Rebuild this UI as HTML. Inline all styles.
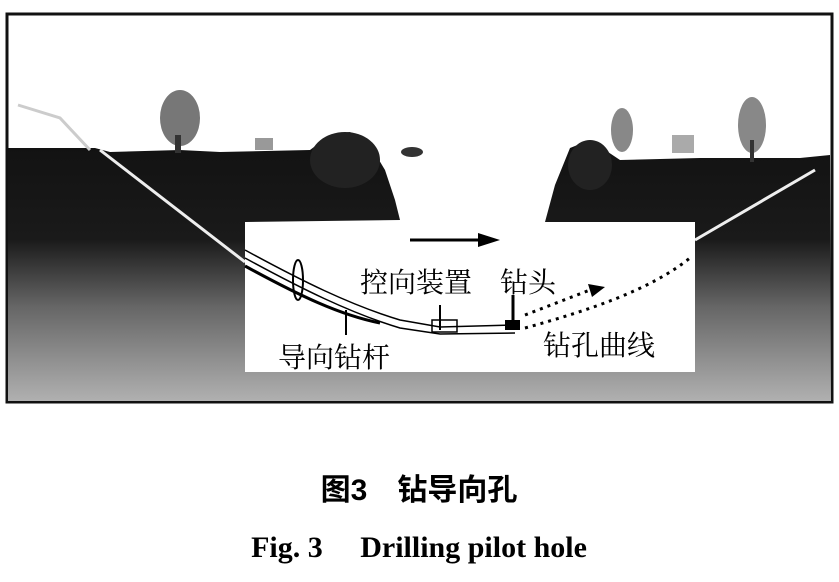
<!DOCTYPE html>
<html><head><meta charset="utf-8"><style>
body{margin:0;width:839px;height:577px;background:#fff;overflow:hidden}
</style></head><body>
<svg width="839" height="577" xmlns="http://www.w3.org/2000/svg">
<defs>
<linearGradient id="g" x1="0" y1="0" x2="0" y2="1">
<stop offset="0" stop-color="#111"/><stop offset="0.4" stop-color="#1a1a1a"/><stop offset="0.65" stop-color="#666"/><stop offset="1" stop-color="#b0b0b0"/>
</linearGradient>
</defs>
<rect x="7" y="14" width="825" height="388" fill="#fff" stroke="#111" stroke-width="3"/>
<path d="M8,148 L95,148 L110,152 L180,150 L220,152 L310,150 L330,135 L350,132 L370,145 L385,170 L395,200 L400,220 L245,222 L245,372 L695,372 L695,222 L545,222 L555,185 L570,148 L590,140 L620,160 L700,158 L800,158 L830,155 L831,401 L8,401 Z" fill="url(#g)"/>
<ellipse cx="345" cy="160" rx="35" ry="28" fill="#222"/>
<ellipse cx="590" cy="165" rx="22" ry="25" fill="#222"/>
<ellipse cx="412" cy="152" rx="11" ry="5" fill="#333"/>
<ellipse cx="180" cy="118" rx="20" ry="28" fill="#777"/><rect x="175" y="135" width="6" height="18" fill="#333"/>
<ellipse cx="622" cy="130" rx="11" ry="22" fill="#888"/>
<ellipse cx="752" cy="125" rx="14" ry="28" fill="#888"/><rect x="750" y="140" width="4" height="22" fill="#333"/>
<rect x="255" y="138" width="18" height="12" fill="#999"/>
<rect x="672" y="135" width="22" height="18" fill="#aaa"/>
<path d="M100,150 L245,262" stroke="#eee" stroke-width="3" fill="none"/>
<path d="M695,240 L815,170" stroke="#eee" stroke-width="3" fill="none"/>
<path d="M18,105 L60,118 L90,150" stroke="#ccc" stroke-width="3" fill="none"/>
<rect x="245" y="222" width="450" height="150" fill="#fff"/>
<line x1="410" y1="240" x2="480" y2="240" stroke="#000" stroke-width="3"/>
<polygon points="478,233 500,240 478,247" fill="#000"/>
<path d="M245,250 C300,280 350,305 400,320 L440,327 L515,325" stroke="#000" stroke-width="1.5" fill="none"/>
<path d="M245,258 C300,288 350,313 400,328 L440,334 L515,333" stroke="#000" stroke-width="1.5" fill="none"/>
<path d="M245,266 C300,296 340,315 380,323" stroke="#000" stroke-width="3" fill="none"/>
<ellipse cx="298" cy="280" rx="5" ry="20" fill="none" stroke="#000" stroke-width="2"/>
<rect x="432" y="320" width="25" height="12" fill="none" stroke="#000" stroke-width="1.5"/>
<line x1="440" y1="305" x2="440" y2="330" stroke="#000" stroke-width="2"/>
<line x1="513" y1="295" x2="513" y2="325" stroke="#000" stroke-width="3"/>
<line x1="346" y1="310" x2="346" y2="335" stroke="#000" stroke-width="2"/>
<rect x="505" y="320" width="15" height="10" fill="#000"/>
<path d="M525,315 L590,290" stroke="#000" stroke-width="3" stroke-dasharray="3,5" fill="none"/>
<polygon points="588,284 605,287 592,297" fill="#000"/>
<path d="M525,328 C590,310 650,290 690,258" stroke="#000" stroke-width="3" stroke-dasharray="3,5" fill="none"/>
<g font-family="'Liberation Serif','Noto Serif CJK SC',serif" font-size="28" fill="#000">
<text x="360" y="292">控向装置</text>
<text x="500" y="292">钻头</text>
<text x="278" y="367">导向钻杆</text>
<text x="543" y="355">钻孔曲线</text>
</g>
<text x="419" y="500" text-anchor="middle" font-family="'Liberation Sans','Noto Sans CJK SC',sans-serif" font-weight="bold" font-size="30">图3　钻导向孔</text>
<text x="419" y="557" text-anchor="middle" font-family="'Liberation Serif',serif" font-weight="bold" font-size="30">Fig. 3　 Drilling pilot hole</text>
</svg>
</body></html>
